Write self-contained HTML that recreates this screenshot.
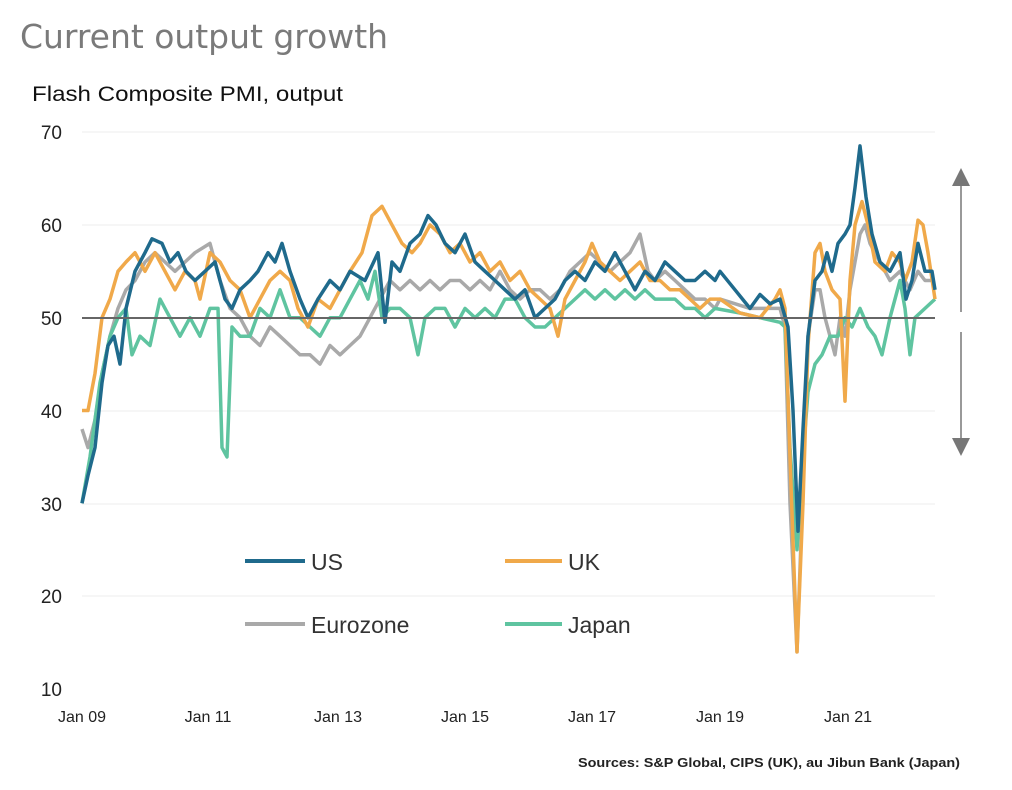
<!DOCTYPE html>
<html><head><meta charset="utf-8"><style>
html,body{margin:0;padding:0;background:#fff;}
svg{display:block;font-family:"Liberation Sans",sans-serif;}
</style></head><body>
<svg id="c" width="1012" height="790" viewBox="0 0 1012 790">
<text x="20" y="48" font-size="33" fill="#7a7a7a" font-family="DejaVu Sans, Liberation Sans, sans-serif" textLength="368" lengthAdjust="spacingAndGlyphs">Current output growth</text>
<text x="32" y="101" font-size="21" fill="#111" textLength="311" lengthAdjust="spacingAndGlyphs">Flash Composite PMI, output</text>
<g stroke="#ececec" stroke-width="1">
<line x1="82" x2="935" y1="225" y2="225"/><line x1="82" x2="935" y1="411" y2="411"/>
<line x1="82" x2="935" y1="504" y2="504"/><line x1="82" x2="935" y1="596" y2="596"/>
<line x1="82" x2="935" y1="132" y2="132"/>
</g>
<g font-size="19" fill="#222" text-anchor="end">
<text x="62" y="139">70</text><text x="62" y="232">60</text><text x="62" y="325">50</text>
<text x="62" y="418">40</text><text x="62" y="511">30</text><text x="62" y="603">20</text><text x="62" y="696">10</text>
</g>
<g font-size="16" fill="#222" text-anchor="middle">
<text x="82" y="722">Jan 09</text><text x="208" y="722">Jan 11</text><text x="338" y="722">Jan 13</text>
<text x="465" y="722">Jan 15</text><text x="592" y="722">Jan 17</text><text x="720" y="722">Jan 19</text><text x="848" y="722">Jan 21</text>
</g>
<g id="series" fill="none" stroke-width="3.5" stroke-linejoin="round"></g>
<line x1="82" x2="935" y1="318" y2="318" stroke="#666" stroke-width="2"/>
<g stroke="#999" stroke-width="2"><line x1="961" x2="961" y1="182" y2="312"/><line x1="961" x2="961" y1="332" y2="442"/></g>
<polygon points="961,168 952,186 970,186" fill="#777"/>
<polygon points="961,456 952,438 970,438" fill="#777"/>
<g stroke-width="4">
<line x1="245" x2="305" y1="561" y2="561" stroke="#1f6a8c"/><line x1="505" x2="562" y1="561" y2="561" stroke="#f0a94a"/>
<line x1="245" x2="305" y1="624" y2="624" stroke="#a9a9a9"/><line x1="505" x2="562" y1="624" y2="624" stroke="#5fc4a0"/>
</g>
<g font-size="23" fill="#333">
<text x="311" y="570">US</text><text x="568" y="570">UK</text><text x="311" y="633">Eurozone</text><text x="568" y="633">Japan</text>
</g>
<text x="578" y="767" font-size="12.5" font-weight="bold" fill="#222" textLength="382" lengthAdjust="spacingAndGlyphs">Sources: S&amp;P Global, CIPS (UK), au Jibun Bank (Japan)</text>
</svg>
<script>
function y(v){return 689-(v-10)*9.283;}
var S={
ez:["#a9a9a9",[82,38,88,36,95,39,102,44,110,48,118,51,126,53,135,54,145,56,155,57,165,56,175,55,185,56,195,57,210,58,220,54,230,51,240,50,250,48,260,47,270,49,280,48,290,47,300,46,310,46,320,45,330,47,340,46,350,47,360,48,370,50,380,52,390,54,400,53,410,54,420,53,430,54,440,53,450,54,460,54,470,53,480,54,490,53,500,55,510,53,520,52,530,53,540,53,550,52,560,53,570,55,580,56,590,57,600,56,610,55,620,56,630,57,640,59,648,55,655,54,665,55,675,54,685,53,695,52,705,52,715,51,720,52,750,51,780,51,785,49,790,30,797,14,803,32,808,48,815,53,820,53,825,50,830,48,835,46,840,50,845,48,850,53,855,56,860,59,865,60,870,58,880,56,890,54,900,55,910,53,918,55,925,54,935,54]],
jp:["#5fc4a0",[82,30,90,35,100,43,110,48,118,50,126,51,132,46,140,48,150,47,160,52,170,50,180,48,190,50,200,48,210,51,218,51,222,36,227,35,232,49,240,48,250,48,260,51,270,50,280,53,290,50,300,50,310,49,320,48,330,50,340,50,350,52,360,54,368,52,375,55,382,50,390,51,400,51,410,50,418,46,425,50,435,51,445,51,455,49,465,51,475,50,485,51,495,50,505,52,515,52,525,50,535,49,545,49,555,50,565,51,575,52,585,53,595,52,605,53,615,52,625,53,635,52,645,53,655,52,665,52,675,52,685,51,695,51,705,50,715,51,740,50.5,760,50,780,49.5,785,49,790,36,797,25,803,35,808,42,815,45,822,46,830,48,838,48,845,50,852,49,860,51,868,49,875,48,882,46,890,50,900,54,905,51,910,46,915,50,925,51,935,52]],
uk:["#f0a94a",[82,40,88,40,95,44,102,50,110,52,118,55,126,56,135,57,145,55,155,57,165,55,175,53,185,55,195,54,200,52,210,57,220,56,230,54,240,53,250,50,260,52,270,54,280,55,290,54,298,51,308,49,318,52,330,51,340,53,350,55,362,57,372,61,382,62,392,60,402,58,412,57,420,58,430,60,440,59,450,57,460,58,470,56,480,57,490,55,500,56,510,54,520,55,530,53,540,52,550,51,558,48,565,52,575,54,585,56,592,58,600,56,610,55,620,54,630,55,640,56,650,54,660,54,670,53,680,53,690,52,700,51,710,52,720,52,740,50.5,760,50,775,52,780,53,785,51,790,35,797,14,803,30,808,47,815,57,820,58,825,55,832,53,840,52,845,41,850,54,855,60,862,62.5,868,60,875,56,885,55,892,57,900,56,905,54,912,56,918,60.5,923,60,928,57,935,52]],
us:["#1f6a8c",[82,30,88,33,95,36,102,43,108,47,114,48,120,45,126,51,135,55,145,57,152,58.5,162,58,170,56,178,57,186,55,195,54,205,55,215,56,225,52,232,51,240,53,250,54,258,55,268,57,275,56,282,58,290,55,300,52,308,50,318,52,330,54,340,53,350,55,365,54,378,57,385,49.5,392,56,400,55,410,58,420,59,428,61,436,60,445,58,455,57,465,59,475,56,485,55,495,54,505,53,515,52,525,53,535,50,545,51,555,52,565,54,575,55,585,54,595,56,605,55,615,57,625,55,635,53,645,55,655,54,665,56,675,55,685,54,695,54,705,55,715,54,720,55,735,53,750,51,760,52.5,770,51.5,780,52,788,49,793,40,798,27,803,38,808,48,815,54,822,55,827,57,832,55,838,58,845,59,850,60,855,64,860,68.5,866,63,872,59,880,56,890,55,900,57,906,52,912,54,918,58,925,55,932,55,935,53]]
};
var g=document.getElementById('series'),ns="http://www.w3.org/2000/svg";
["ez","jp","uk","us"].forEach(function(k){var d=S[k][1],p=[];for(var i=0;i<d.length;i+=2)p.push(d[i]+","+y(d[i+1]).toFixed(1));
var e=document.createElementNS(ns,"polyline");e.setAttribute("points",p.join(" "));e.setAttribute("stroke",S[k][0]);g.appendChild(e);});
</script>
</body></html>
